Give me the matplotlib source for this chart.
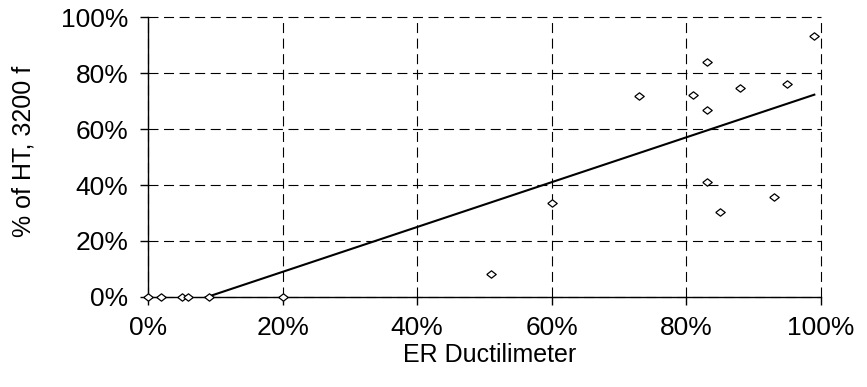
import numpy as np
import matplotlib
matplotlib.use("Agg")
import matplotlib.pyplot as plt
from matplotlib.ticker import FuncFormatter

plt.rcParams['font.family'] = ['Liberation Sans', 'DejaVu Sans']

# ER ductilimeter result vs. share of HT at 3200 ft (both as percentages)
er_ductilimeter = [0, 2, 5, 6, 9, 20, 51, 60, 73, 81, 83, 83, 83, 85, 88, 93, 95, 99]
pct_ht_3200 = [0, 0, 0, 0, 0, 0, 8.2, 33.6, 71.8, 72.1, 83.8, 66.8, 41.2, 30.2,
               74.5, 35.8, 76.0, 93.2]

x_ticks = [0, 20, 40, 60, 80, 100]
y_ticks = [0, 20, 40, 60, 80, 100]

x = np.array(er_ductilimeter, dtype=float)
y = np.array(pct_ht_3200, dtype=float)

fig = plt.figure(figsize=(8.67, 3.87), dpi=100)
ax = fig.add_axes([0.1707, 0.2326, 0.947 - 0.1707, 0.956 - 0.2326])

# linear trend line over the data range
slope, intercept = np.polyfit(x, y, 1)
xl = np.array([x.min(), x.max()])
ax.plot(xl, slope * xl + intercept, color='black', lw=1.5, zorder=3)

diamond = [(-1, 0), (0, 0.78), (1, 0), (0, -0.78), (-1, 0)]
ax.plot(x, y, linestyle='none', marker=diamond, markersize=6.8,
        markerfacecolor='white', markeredgecolor='black', markeredgewidth=0.9,
        clip_on=False, zorder=4)

ax.set_xlim(0, 100)
ax.set_ylim(0, 100)
ax.set_xticks(x_ticks)
ax.set_yticks(y_ticks)
pct = FuncFormatter(lambda v, p: f"{v:.0f}%")
ax.xaxis.set_major_formatter(pct)
ax.yaxis.set_major_formatter(pct)

ax.grid(True, color='black', linestyle=(0, (9, 5)), linewidth=0.8)
for gl in ax.get_xgridlines() + ax.get_ygridlines():
    gl.set_clip_on(False)
ax.set_axisbelow(True)

ax.spines['top'].set_visible(False)
ax.spines['right'].set_visible(False)
for s in ('left', 'bottom'):
    ax.spines[s].set_linewidth(1.0)
    ax.spines[s].set_zorder(2)

ax.tick_params(direction='out', length=6, width=1.0, labelsize=19, pad=8,
               colors='black')

ax.set_xlabel('ER Ductilimeter', fontsize=18)
ax.set_ylabel('% of HT, 3200 f', fontsize=18, va='center')
ax.xaxis.set_label_coords(0.507, -0.165)
ax.yaxis.set_label_coords(-0.185, 0.52)

fig.savefig('out.png', dpi=100)
